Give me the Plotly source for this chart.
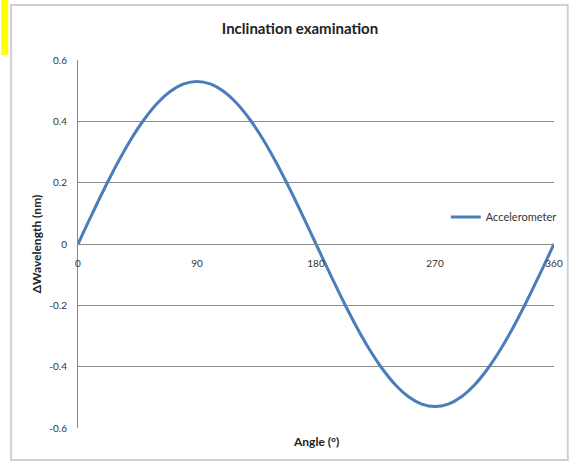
import plotly.graph_objects as go

angles = [0, 10, 20, 30, 40, 50, 60, 70, 80, 90, 100, 110, 120, 130, 140, 150, 160, 170, 180,
          190, 200, 210, 220, 230, 240, 250, 260, 270, 280, 290, 300, 310, 320, 330, 340, 350, 360]
wavelength = [0, 0.092, 0.181, 0.265, 0.341, 0.406, 0.459, 0.498, 0.522, 0.530, 0.522, 0.498, 0.459,
              0.406, 0.341, 0.265, 0.181, 0.092, 0, -0.092, -0.181, -0.265, -0.341, -0.406, -0.459,
              -0.498, -0.522, -0.530, -0.522, -0.498, -0.459, -0.406, -0.341, -0.265, -0.181, -0.092, 0]
x_ticks = [0, 90, 180, 270, 360]
y_ticks = [-0.6, -0.4, -0.2, 0, 0.2, 0.4, 0.6]
y_tick_labels = ["-0.6", "-0.4", "-0.2", "0", "0.2", "0.4", "0.6"]

fig = go.Figure()
fig.add_trace(go.Scatter(x=angles, y=wavelength, mode="lines", name="Accelerometer",
                         line=dict(color="#4a7ebb", width=3, shape="spline")))

L, R, T, B = 78, 12, 60, 42
W, H = 574, 470
pw, ph = W - L - R, H - T - B

def px(x):
    return (x - L) / pw

def py(y):
    return (H - B - y) / ph

fig.update_layout(
    width=W, height=H,
    margin=dict(l=L, r=R, t=T, b=B),
    paper_bgcolor="white", plot_bgcolor="white",
    font=dict(family="Lato, Open Sans, sans-serif", color="#333333"),
    title=dict(text="<b>Inclination examination</b>", x=300 / W, xanchor="center",
               y=1 - 29 / H, yanchor="middle", font=dict(size=15, color="#222222")),
    showlegend=True,
    legend=dict(x=px(452), y=py(217), xanchor="left", yanchor="middle",
                bgcolor="rgba(0,0,0,0)", font=dict(size=11, color="#333333"),
                itemwidth=30),
    xaxis=dict(range=[0, 360], tickvals=x_ticks, ticktext=[str(v) for v in x_ticks],
               showgrid=False, zeroline=False, showline=True, linecolor="#888888", linewidth=1,
               anchor="free", position=0.5, tickfont=dict(size=10, color="#333333"),
               ticks="", ticklabelstandoff=10, fixedrange=True),
    yaxis=dict(range=[-0.6, 0.6], tickvals=y_ticks, ticktext=y_tick_labels,
               showgrid=True, gridcolor="#8c8c8c", gridwidth=1, zeroline=False,
               showline=True, linecolor="#888888", linewidth=1, automargin=False,
               tickfont=dict(size=10, color="#333333"), ticks="", ticklabelstandoff=8,
               title=dict(text="<b>ΔWavelength (nm)</b>", font=dict(size=12, color="#222222"),
                          standoff=5)),
)

fig.add_annotation(text="<b>Angle (°)</b>", xref="paper", yref="paper",
                   x=px(320), y=py(441), showarrow=False, xanchor="center", yanchor="middle",
                   font=dict(size=12, color="#222222"))

# outer chart border
fig.add_shape(type="rect", xref="paper", yref="paper",
              x0=px(10), x1=px(576), y0=py(460), y1=py(5),
              line=dict(color="#d0d0d0", width=2), fillcolor="rgba(0,0,0,0)", layer="below")
# yellow marker at top-left
fig.add_shape(type="rect", xref="paper", yref="paper",
              x0=px(0), x1=px(7), y0=py(55), y1=py(0),
              line=dict(width=0), fillcolor="#ffff00")

fig.write_html("out.html", config={"displayModeBar": False},
               post_script="document.body.style.margin='0';")
